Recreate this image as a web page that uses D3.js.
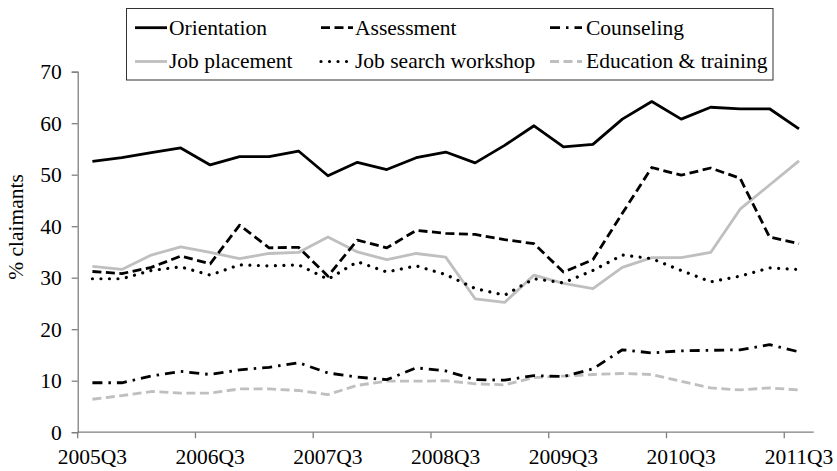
<!DOCTYPE html>
<html>
<head>
<meta charset="utf-8">
<script src="https://cdn.jsdelivr.net/npm/d3@7"></script>
<style>
  html, body { margin: 0; padding: 0; background: #fff; }
  svg { display: block; }
</style>
</head>
<body>
<svg id="chart" width="837" height="471" font-family="Liberation Serif"></svg>
<script>
const categories = ["2005Q3","2005Q4","2006Q1","2006Q2","2006Q3","2006Q4","2007Q1","2007Q2","2007Q3","2007Q4","2008Q1","2008Q2","2008Q3","2008Q4","2009Q1","2009Q2","2009Q3","2009Q4","2010Q1","2010Q2","2010Q3","2010Q4","2011Q1","2011Q2","2011Q3"];
const tickLabels = ["2005Q3","2006Q3","2007Q3","2008Q3","2009Q3","2010Q3","2011Q3"];
const yTicks = [0,10,20,30,40,50,60,70];

const orientation = [52.6,53.3,54.3,55.2,51.9,53.5,53.5,54.6,49.8,52.4,51.0,53.3,54.4,52.3,55.7,59.5,55.4,55.9,60.8,64.2,60.8,63.1,62.8,62.8,58.9];
const assessment  = [31.2,30.8,32.0,34.2,32.7,40.2,35.8,35.9,30.3,37.3,35.8,39.2,38.6,38.4,37.4,36.6,31.1,33.5,42.5,51.4,49.9,51.3,49.3,37.9,36.6];
const counseling  = [9.6,9.6,10.9,11.8,11.2,12.1,12.6,13.5,11.5,10.7,10.2,12.5,11.9,10.2,10.1,11.0,10.8,12.3,16.0,15.4,15.8,15.9,16.0,17.0,15.6];
const jobPlacement = [32.2,31.6,34.4,36.0,34.9,33.7,34.7,34.9,37.9,35.0,33.5,34.7,34.0,25.9,25.2,30.5,28.9,27.9,32.0,33.9,33.9,34.9,43.3,48.0,52.7];
const jobSearch   = [29.8,29.8,31.4,32.1,30.5,32.5,32.3,32.5,29.7,33.1,31.1,32.3,30.6,27.9,26.6,29.8,29.0,31.4,34.4,33.7,31.4,29.2,30.3,31.9,31.6];
const education   = [6.4,7.1,7.9,7.6,7.6,8.4,8.4,8.1,7.3,9.1,9.9,9.9,10.0,9.4,9.2,10.6,10.9,11.2,11.4,11.2,9.9,8.6,8.2,8.6,8.2];

const seriesNames = ["Orientation","Assessment","Counseling","Job placement","Job search workshop","Education & training"];
const seriesValues = [orientation, assessment, counseling, jobPlacement, jobSearch, education];

const styles = [
  {color:"#000", dash:null, width:2.8, cap:"butt"},
  {color:"#000", dash:"9,4.5", width:2.8, cap:"butt"},
  {color:"#000", dash:"10,6,2.5,6", width:2.8, cap:"butt"},
  {color:"#bfbfbf", dash:null, width:2.8, cap:"butt"},
  {color:"#000", dash:"0.01,8.5", width:3.2, cap:"round"},
  {color:"#bfbfbf", dash:"9,4.5", width:2.8, cap:"butt"}
];

(function () {
const FONT = "Liberation Serif";
const FS = "21.5px";
const svg = d3.select("#chart");
const pLeft = 77.7, pRight = 813.7, pTop = 71.7, pBottom = 432.2;

const x = d3.scaleBand().domain(categories).range([pLeft, pRight]).padding(0);
const y = d3.scaleLinear().domain([0,70]).range([pBottom, pTop]);
const axisColor = "#7f7f7f";

const yAxis = svg.append("g").attr("transform", `translate(${pLeft},0)`)
  .call(d3.axisLeft(y).tickValues(yTicks).tickSize(6).tickPadding(10).tickFormat(d3.format("d")));
yAxis.attr("font-family", FONT).attr("font-size", FS);
yAxis.select(".domain").attr("stroke", axisColor).attr("stroke-width", 1.3);
yAxis.selectAll(".tick line").attr("stroke", axisColor).attr("stroke-width", 1.3);
yAxis.selectAll(".tick text").attr("font-family", FONT).attr("font-size", FS).attr("fill", "#000");

const xg = svg.append("g");
xg.append("line").attr("x1", pLeft).attr("x2", pRight).attr("y1", pBottom).attr("y2", pBottom)
  .attr("stroke", axisColor).attr("stroke-width", 1.3);
xg.selectAll("line.tk").data(tickLabels).join("line").attr("class","tk")
  .attr("x1", d => x(d)).attr("x2", d => x(d)).attr("y1", pBottom).attr("y2", pBottom + 6)
  .attr("stroke", axisColor).attr("stroke-width", 1.3);
xg.selectAll("text").data(tickLabels).join("text")
  .attr("x", d => x(d) + x.bandwidth()/2).attr("y", 463.5)
  .attr("text-anchor", "middle").attr("font-family", FONT).attr("font-size", FS).text(d => d);

svg.append("text").attr("transform", "translate(23,227) rotate(-90)")
  .attr("text-anchor", "middle").attr("font-family", FONT).attr("font-size", FS).text("% claimants");

const line = d3.line().x((d,i) => x(categories[i]) + x.bandwidth()/2).y(d => y(d));
const drawOrder = [3,5,2,4,1,0];
drawOrder.forEach(k => {
  const s = styles[k];
  svg.append("path").datum(seriesValues[k]).attr("d", line)
    .attr("fill", "none").attr("stroke", s.color).attr("stroke-width", s.width)
    .attr("stroke-linecap", s.cap).attr("stroke-linejoin", "round")
    .attr("stroke-dasharray", s.dash);
});

const lg = svg.append("g");
lg.append("rect").attr("x", 126.5).attr("y", 8.5).attr("width", 646.5).attr("height", 71.5)
  .attr("fill", "#fff").attr("stroke", "#333").attr("stroke-width", 1);
const colSym = [135, 321, 550];
const colText = [169, 355, 586];
const rowY = [27.7, 61.5];
seriesNames.forEach((name, k) => {
  const col = k % 3, row = Math.floor(k / 3);
  const s = styles[k];
  lg.append("line").attr("x1", colSym[col]).attr("x2", colSym[col] + 32)
    .attr("y1", rowY[row]).attr("y2", rowY[row])
    .attr("stroke", s.color).attr("stroke-width", s.width)
    .attr("stroke-linecap", s.cap).attr("stroke-dasharray", s.dash);
  lg.append("text").attr("x", colText[col]).attr("y", rowY[row] + 6.8)
    .attr("font-family", FONT).attr("font-size", FS).text(name);
});
})();
</script>
</body>
</html>
